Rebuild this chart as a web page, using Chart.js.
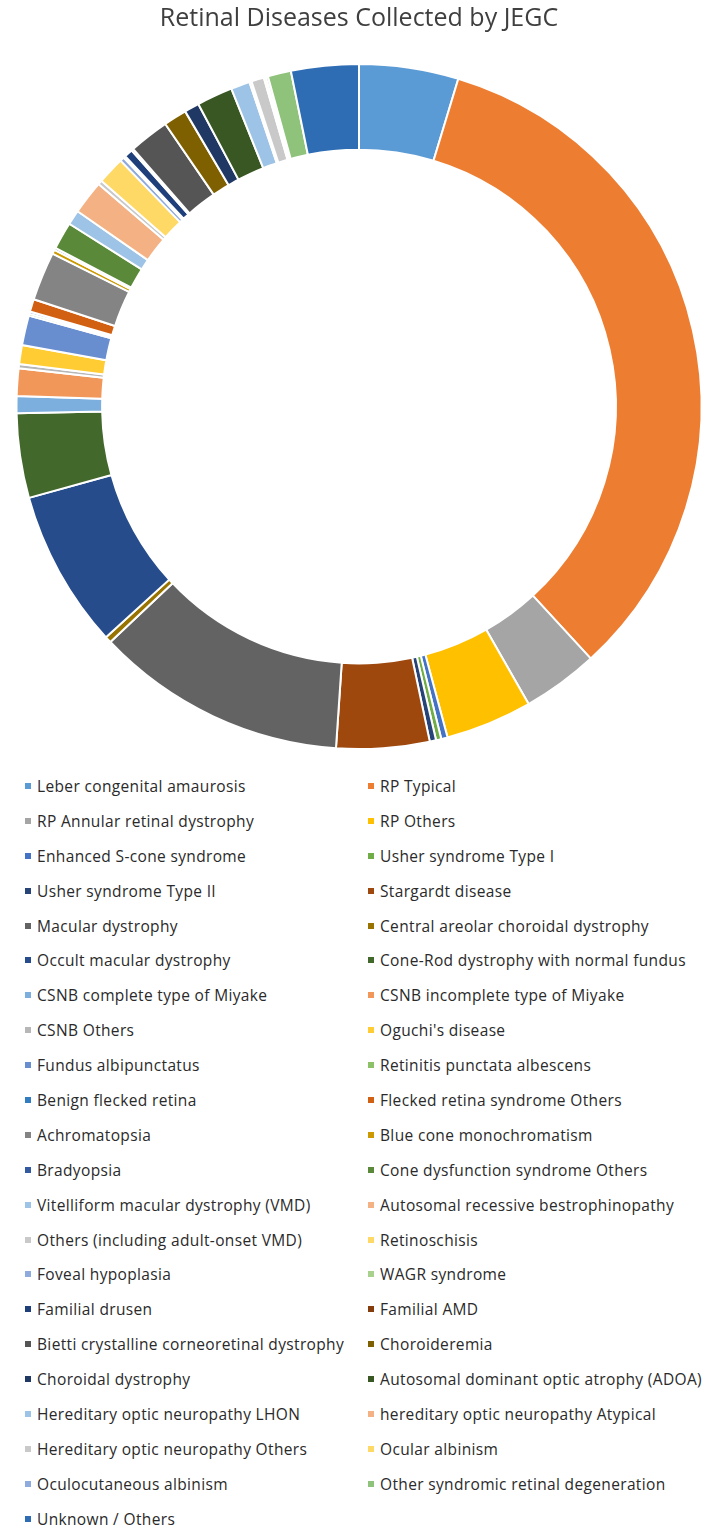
<!DOCTYPE html>
<html>
  <head>
    <meta charset="UTF-8">
    <title>Retinal Diseases Collected by JEGC</title>
    <script src="https://cdn.jsdelivr.net/npm/chart.js"></script>
    <style>
      body { margin: 0; background: #fff; }
      #wrap { position: relative; width: 718px; height: 750px; }
      #legend {
        display: grid;
        grid-template-columns: 343px 350px;
        grid-auto-rows: 34.9px;
        padding-left: 25px;
        margin-top: 18.5px;
        font-family: "Open Sans", "Liberation Sans", sans-serif;
        font-size: 15.5px;
        letter-spacing: 0.35px;
        color: #2a2a2a;
      }
      #legend .item { display: flex; align-items: center; white-space: nowrap; }
      #legend .box { width: 6px; height: 6px; margin-right: 6px; flex: none; }
    </style>
  </head>
  <body>
    <div id="wrap"><canvas id="diseaseChart"></canvas></div>
    <div id="legend"></div>
    <script>
      const diseases = [
        'Leber congenital amaurosis', 'RP Typical',
        'RP Annular retinal dystrophy', 'RP Others',
        'Enhanced S-cone syndrome', 'Usher syndrome Type I',
        'Usher syndrome Type II', 'Stargardt disease',
        'Macular dystrophy', 'Central areolar choroidal dystrophy',
        'Occult macular dystrophy', 'Cone-Rod dystrophy with normal fundus',
        'CSNB complete type of Miyake', 'CSNB incomplete type of Miyake',
        'CSNB Others', "Oguchi's disease",
        'Fundus albipunctatus', 'Retinitis punctata albescens',
        'Benign flecked retina', 'Flecked retina syndrome Others',
        'Achromatopsia', 'Blue cone monochromatism',
        'Bradyopsia', 'Cone dysfunction syndrome Others',
        'Vitelliform macular dystrophy (VMD)', 'Autosomal recessive bestrophinopathy',
        'Others (including adult-onset VMD)', 'Retinoschisis',
        'Foveal hypoplasia', 'WAGR syndrome',
        'Familial drusen', 'Familial AMD',
        'Bietti crystalline corneoretinal dystrophy', 'Choroideremia',
        'Choroidal dystrophy', 'Autosomal dominant optic atrophy (ADOA)',
        'Hereditary optic neuropathy LHON', 'hereditary optic neuropathy Atypical',
        'Hereditary optic neuropathy Others', 'Ocular albinism',
        'Oculocutaneous albinism', 'Other syndromic retinal degeneration',
        'Unknown / Others'
      ];

      // share of cases, %
      const shares = [
        4.7, 33.6, 3.6, 4.1, 0.3, 0.25, 0.3, 4.4, 11.9, 0.3,
        7.5, 4.0, 0.8, 1.3, 0.2, 0.9, 1.4, 0.1, 0.1, 0.6,
        2.3, 0.2, 0.1, 1.3, 0.7, 1.6, 0.2, 1.3, 0.2, 0.1,
        0.4, 0.1, 1.9, 1.1, 0.7, 1.7, 0.9, 0.1, 0.6, 0.1,
        0.1, 1.1, 3.2
      ];

      const colors = [
        '#5B9BD5', '#ED7D31', '#A5A5A5', '#FFC000', '#4472C4', '#70AD47',
        '#264478', '#9E480E', '#636363', '#997300', '#264C8C', '#43682B',
        '#7CAFDD', '#F1975A', '#B7B7B7', '#FFCD33', '#698ED0', '#8CC168',
        '#327DC2', '#D26012', '#848484', '#CC9A00', '#335AA1', '#5A8A39',
        '#9DC3E6', '#F4B183', '#C9C9C9', '#FFD966', '#8FAADC', '#A9D18E',
        '#1F3F7A', '#843C0C', '#555555', '#7F6000', '#203864', '#385723',
        '#9DC3E6', '#F4B183', '#C9C9C9', '#FFD966', '#8FAADC', '#8FC27A',
        '#2E6DB4'
      ];

      const chart = new Chart(document.getElementById('diseaseChart'), {
        type: 'doughnut',
        data: {
          labels: diseases,
          datasets: [{
            data: shares,
            backgroundColor: colors,
            borderColor: '#ffffff',
            borderWidth: 2,
            hoverOffset: 0
          }]
        },
        options: {
          responsive: true,
          maintainAspectRatio: false,
          animation: false,
          cutout: '75%',
          layout: { padding: 0 },
          plugins: {
            legend: { display: false },
            tooltip: { enabled: false },
            title: {
              display: true,
              text: 'Retinal Diseases Collected by JEGC',
              color: '#3f3f3f',
              font: { family: '"Open Sans", "Liberation Sans", sans-serif', size: 25, weight: 'normal' },
              padding: { top: 4, bottom: 29 }
            }
          }
        }
      });

      // two-column legend built from the chart's own legend items
      const legendEl = document.getElementById('legend');
      Chart.overrides.doughnut.plugins.legend.labels.generateLabels(chart).forEach(item => {
        const row = document.createElement('div');
        row.className = 'item';
        const box = document.createElement('span');
        box.className = 'box';
        box.style.background = item.fillStyle;
        const label = document.createElement('span');
        label.textContent = item.text;
        row.appendChild(box);
        row.appendChild(label);
        legendEl.appendChild(row);
      });
    </script>
  </body>
</html>
